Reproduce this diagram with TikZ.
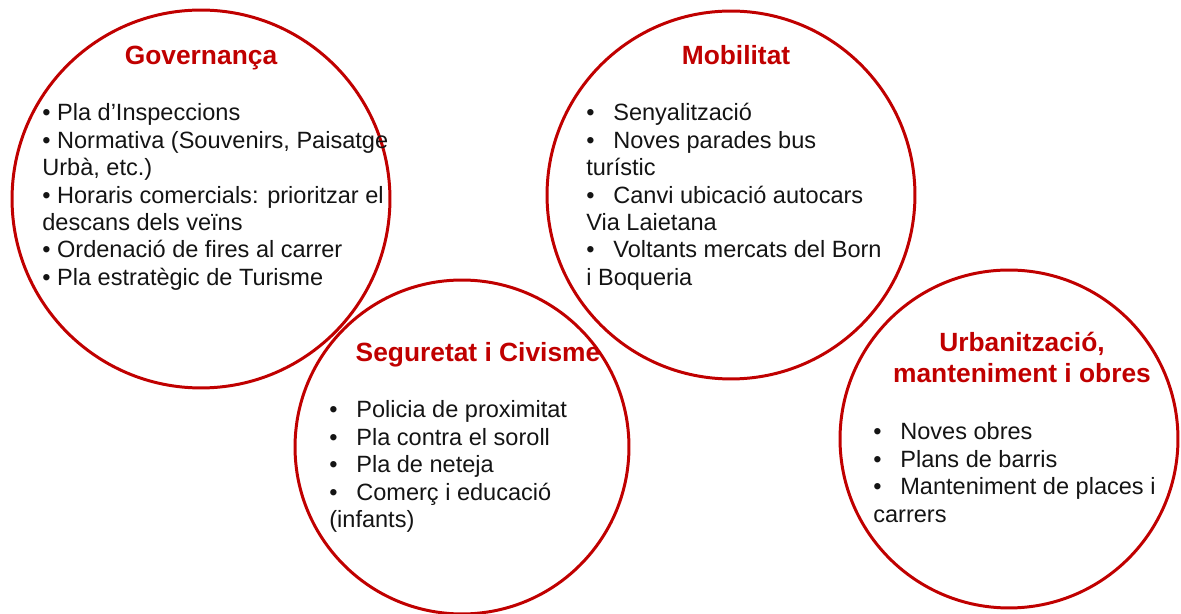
\documentclass[tikz,border=0pt]{standalone}
\usepackage{fontspec}
\setmainfont{Liberation Sans}
\usepackage{tikz}
\usetikzlibrary{positioning}
\definecolor{themered}{RGB}{192, 0, 0}
\definecolor{textblack}{RGB}{20, 20, 20}
\newcommand{\bitem}{\makebox[0.54cm][l]{\textbullet}}

\begin{document}
\begin{tikzpicture}[
    x=0.02cm, y=-0.02cm,
    area/.style={circle, draw=themered, line width=1.7pt, inner sep=0pt},
    title/.style={text=themered, font=\fontsize{15}{18.2}\selectfont\bfseries, align=center, inner sep=0pt, anchor=base},
    items/.style={text=textblack, font=\fontsize{13.4}{15.6}\selectfont, align=left, inner sep=0pt, anchor=base west}
]
    \useasboundingbox (0,0) rectangle (1181,614);

    % Circles
    \node[area, minimum size=7.56cm] (gov) at (201,199) {};
    \node[area, minimum size=7.36cm] (mob) at (731,195) {};
    \node[area, minimum size=6.68cm] (seg) at (462,447) {};
    \node[area, minimum size=6.76cm] (urb) at (1009,439) {};

    % Governança (base = last line)
    \node[title] (govtitle) at (201,65) {Governança};
    \node[items] (govitems) at (42,285.4) {\textbullet{} Pla d’Inspeccions\\
        \textbullet{} Normativa (Souvenirs, Paisatge\\
        Urbà, etc.)\\
        \textbullet{} Horaris comercials: prioritzar el\\
        descans dels veïns\\
        \textbullet{} Ordenació de fires al carrer\\
        \textbullet{} Pla estratègic de Turisme};

    % Mobilitat
    \node[title] (mobtitle) at (736,65) {Mobilitat};
    \node[items] (mobitems) at (586,285.4) {\bitem Senyalització\\
        \bitem Noves parades bus\\
        turístic\\
        \bitem Canvi ubicació autocars\\
        Via Laietana\\
        \bitem Voltants mercats del Born\\
        i Boqueria};

    % Seguretat i Civisme
    \node[title] (segtitle) at (478,362) {Seguretat i Civisme};
    \node[items] (segitems) at (329,527.6) {\bitem Policia de proximitat\\
        \bitem Pla contra el soroll\\
        \bitem Pla de neteja\\
        \bitem Comerç i educació\\
        (infants)};

    % Urbanització, manteniment i obres
    \node[title] (urbtitle) at (1022,383) {Urbanització,\\manteniment i obres};
    \node[items] (urbitems) at (873,522.2) {\bitem Noves obres\\
        \bitem Plans de barris\\
        \bitem Manteniment de places i\\
        carrers};
\end{tikzpicture}
\end{document}
